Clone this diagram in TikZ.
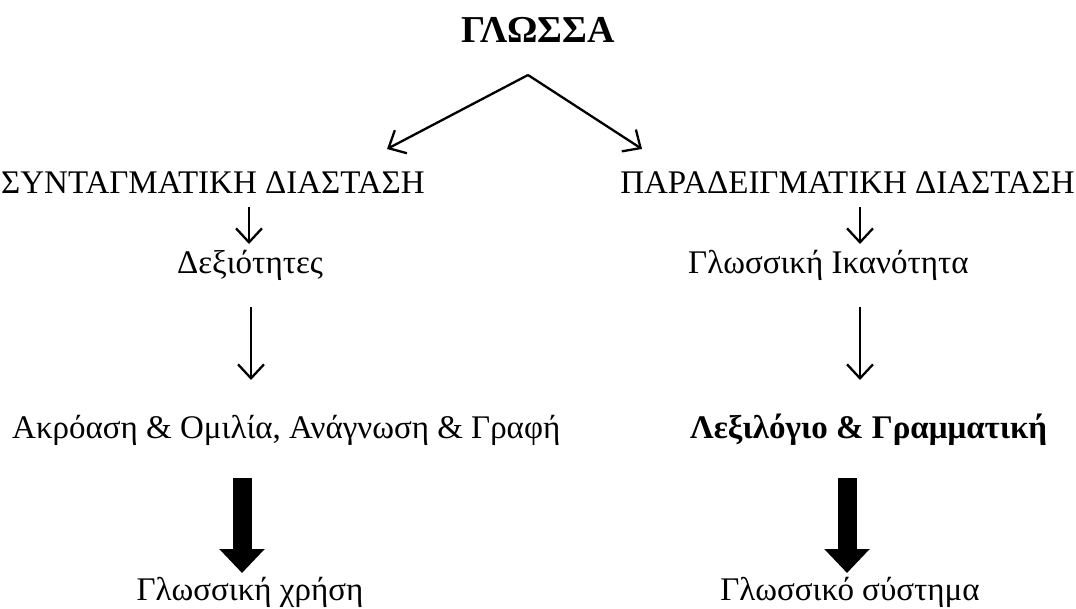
\documentclass[tikz,border=0pt]{standalone}
\usepackage{fontspec}
\setmainfont{Liberation Serif}
\usetikzlibrary{arrows.meta}
\begin{document}
\begin{tikzpicture}[x=1pt,y=-1pt,
  txt/.style={inner sep=0pt, font=\fontsize{33}{40}\selectfont},
  btxt/.style={inner sep=0pt, font=\fontsize{33}{40}\selectfont\bfseries},
  ttl/.style={inner sep=0pt, font=\fontsize{38}{46}\selectfont\bfseries},
  thin/.style={line width=2.3pt, -{Straight Barb[length=14pt,width=26pt]}},
  fat/.style={line width=19pt, -{Triangle[length=24pt,width=44pt]}}]
\useasboundingbox (0,0) rectangle (1076,608);
% texts
\node[ttl, anchor=base] (g) at (538,42) {ΓΛΩΣΣΑ};
\node[txt, anchor=base west] (s1) at (1,193) {ΣΥΝΤΑΓΜΑΤΙΚΗ ΔΙΑΣΤΑΣΗ};
\node[txt, anchor=base east] (p1) at (1075,193) {ΠΑΡΑΔΕΙΓΜΑΤΙΚΗ ΔΙΑΣΤΑΣΗ};
\node[txt, anchor=base] (s2) at (250,273) {Δεξιότητες};
\node[txt, anchor=base west] (p2) at (688,273) {Γλωσσική Ικανότητα};
\node[txt, anchor=base west] (s3) at (12,438) {Ακρόαση \& Ομιλία, Ανάγνωση \& Γραφή};
\node[btxt, anchor=base west] (p3) at (690,438) {Λεξιλόγιο \& Γραμματική};
\node[txt, anchor=base] (s4) at (250,600) {Γλωσσική χρήση};
\node[txt, anchor=base] (p4) at (850,600) {Γλωσσικό σύστημα};
% arrow end points
\coordinate (apex) at (528,75);
\coordinate (aL) at (387,149);
\coordinate (aR) at (642,149);
\coordinate (s1b) at (249,207);
\coordinate (s2t) at (249,244);
\coordinate (p1b) at (860,207);
\coordinate (p2t) at (860,244);
\coordinate (s2b) at (251,307);
\coordinate (s3t) at (251,380);
\coordinate (p2b) at (860,307);
\coordinate (p3t) at (860,380);
\coordinate (s3b) at (242,478);
\coordinate (s4t) at (242,573);
\coordinate (p3b) at (847,478);
\coordinate (p4t) at (847,573);
% connectors
\draw[thin] (apex) -- (aL);
\draw[thin] (apex) -- (aR);
\draw[thin] (s1b) -- (s2t);
\draw[thin] (p1b) -- (p2t);
\draw[thin] (s2b) -- (s3t);
\draw[thin] (p2b) -- (p3t);
\draw[fat] (s3b) -- (s4t);
\draw[fat] (p3b) -- (p4t);
\end{tikzpicture}
\end{document}
